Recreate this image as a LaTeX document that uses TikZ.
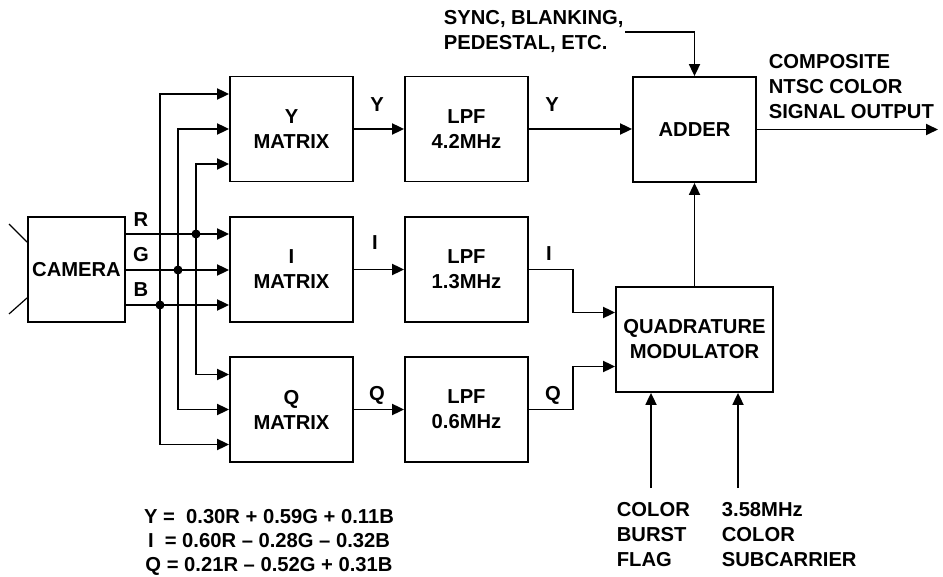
\documentclass[tikz,border=0pt]{standalone}
\usepackage{fontspec}
\setmainfont{Liberation Sans}
\usetikzlibrary{arrows.meta,calc}
\begin{document}
\begin{tikzpicture}[x=1pt,y=-1pt,
  font=\bfseries\fontsize{20.2}{25}\selectfont,
  line width=1.8pt,
  blk/.style={draw, line width=1.8pt, minimum width=123pt, minimum height=105pt, inner sep=0pt, align=center},
  arr/.style={-{Triangle[length=12pt,width=11pt]}},
  lbl/.style={inner sep=0pt},
  jdot/.style={circle, fill, inner sep=0pt, minimum size=9pt}]
\useasboundingbox (0,0) rectangle (943,577);

% blocks
\node[blk, minimum width=97pt] (camera) at (76.5,269.5) {CAMERA};
\node[blk] (ymat) at (291.5,129) {Y\\MATRIX};
\node[blk] (imat) at (291.5,269.5) {I\\MATRIX};
\node[blk] (qmat) at (291.5,409.5) {Q\\MATRIX};
\node[blk] (ylpf) at (466.5,129) {LPF\\4.2MHz};
\node[blk] (ilpf) at (466.5,269.5) {LPF\\1.3MHz};
\node[blk] (qlpf) at (466.5,409.5) {LPF\\0.6MHz};
\node[blk] (adder) at (694.5,129.5) {ADDER};
\node[blk, minimum width=157pt] (quad) at (694.5,339.5) {QUADRATURE\\MODULATOR};

% antenna strokes
\draw[line width=1.2pt] ($(camera.north west)+(0,26)$) -- ++(-18,-18);
\draw[line width=1.2pt] ($(camera.south west)+(0,-25)$) -- ++(-18,16);

% RGB level coordinates
\coordinate (r) at (0,234);
\coordinate (g) at (0,270);
\coordinate (b) at (0,305);

% junction dots
\node[jdot] (dR) at (196,234) {};
\node[jdot] (dG) at (178,270) {};
\node[jdot] (dB) at (160,305) {};

% camera outputs to I matrix
\draw[arr] (camera.east|-r) -- (imat.west|-r);
\draw[arr] (camera.east|-g) -- (imat.west|-g);
\draw[arr] (camera.east|-b) -- (imat.west|-b);

% buses to Y and Q matrices
\draw[arr] (dR.center) |- ($(ymat.west)+(0,35)$);
\draw[arr] (dR.center) |- ($(qmat.west)+(0,-35)$);
\draw[arr] (dG.center) |- (ymat.west);
\draw[arr] (dG.center) |- (qmat.west);
\draw[arr] (dB.center) |- ($(ymat.west)+(0,-35)$);
\draw[arr] (dB.center) |- ($(qmat.west)+(0,35)$);

% matrices to LPFs
\draw[arr] (ymat.east) -- (ylpf.west);
\draw[arr] (imat.east) -- (ilpf.west);
\draw[arr] (qmat.east) -- (qlpf.west);

% LPF outputs
\draw[arr] (ylpf.east) -- (adder.west|-ylpf.east);
\draw[arr] (ilpf.east) -- ++(44,0) |- ($(quad.west)+(0,-27)$);
\draw[arr] (qlpf.east) -- ++(44,0) |- ($(quad.west)+(0,27)$);
\draw[arr] (quad.north) -- (adder.south);

% sync input and output
\coordinate (sync) at (625,32);
\draw[arr] (sync) -| (adder.north);
\coordinate (out) at (938,129.5);
\draw[arr] (adder.east) -- (out);

% bottom inputs
\coordinate (cbf) at (651,488);
\coordinate (sub) at (738,488);
\draw[arr] (cbf) -- (cbf|-quad.south);
\draw[arr] (sub) -- (sub|-quad.south);

% signal labels
\node[lbl] (lR) at (141,220) {R};
\node[lbl] (lG) at (141,255) {G};
\node[lbl] (lB) at (141,290) {B};
\node[lbl] (lY1) at (377,105) {Y};
\node[lbl] (lY2) at (552,105) {Y};
\node[lbl] (lI1) at (375,243) {I};
\node[lbl] (lI2) at (549,254) {I};
\node[lbl] (lQ1) at (377,395) {Q};
\node[lbl] (lQ2) at (553,395) {Q};

% text blocks
\node[lbl, anchor=north west, align=left] (tsync) at (443,9) {SYNC, BLANKING,\\PEDESTAL, ETC.};
\node[lbl, anchor=north west, align=left] (tout) at (768,53) {COMPOSITE\\NTSC COLOR\\SIGNAL OUTPUT};
\node[lbl, anchor=north west, align=left] (tcbf) at (616,501) {COLOR\\BURST\\FLAG};
\node[lbl, anchor=north west, align=left] (tsub) at (721,501) {3.58MHz\\COLOR\\SUBCARRIER};
\node[lbl, anchor=north, align=center, font=\bfseries\fontsize{20.2}{24}\selectfont] (teq) at (269,508)
  {Y =\ \ 0.30R + 0.59G + 0.11B\\ I\ \ = 0.60R – 0.28G – 0.32B\\Q = 0.21R – 0.52G + 0.31B};
\end{tikzpicture}
\end{document}
